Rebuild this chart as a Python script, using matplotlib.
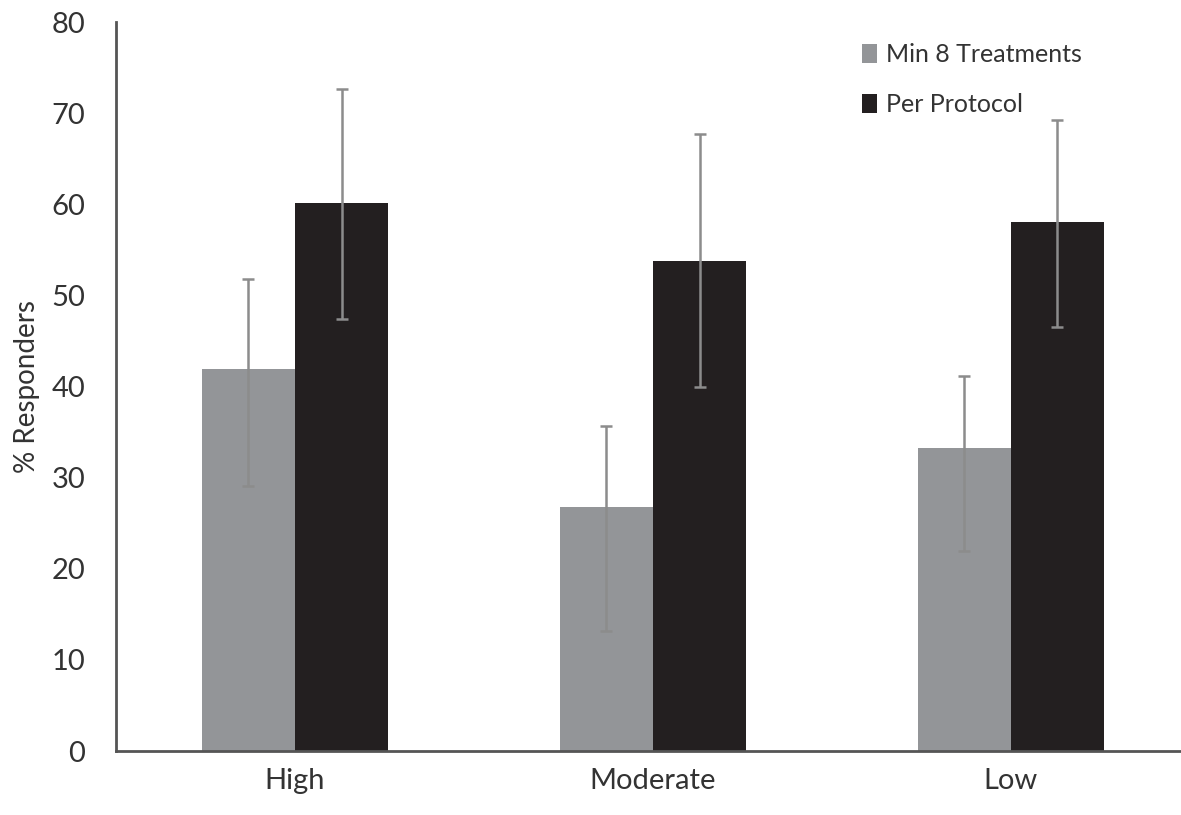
import numpy as np
import matplotlib.pyplot as plt

categories = ['High', 'Moderate', 'Low']
min8 = [41.9, 26.8, 33.3]
min8_lo = [29.1, 13.2, 22.0]
min8_hi = [51.8, 35.7, 41.2]
perprot = [60.1, 53.8, 58.0]
perprot_lo = [47.4, 40.0, 46.5]
perprot_hi = [72.7, 67.7, 69.2]

plt.rcParams['font.family'] = ['Lato', 'DejaVu Sans']

fig = plt.figure(figsize=(11.81, 8.15), dpi=100)
ax = fig.add_axes([0.0982, 0.0785, 0.9018, 0.8945])

x = np.arange(len(categories))
w = 0.26
err1 = [np.array(min8) - np.array(min8_lo), np.array(min8_hi) - np.array(min8)]
err2 = [np.array(perprot) - np.array(perprot_lo), np.array(perprot_hi) - np.array(perprot)]

ax.bar(x - w / 2, min8, w, color='#939598', label='Min 8 Treatments')
ax.bar(x + w / 2, perprot, w, color='#231f20', label='Per Protocol')
ax.errorbar(x - w / 2, min8, yerr=err1, fmt='none', ecolor='#8c8c8c', elinewidth=1.8, capsize=4, capthick=1.8)
ax.errorbar(x + w / 2, perprot, yerr=err2, fmt='none', ecolor='#8c8c8c', elinewidth=1.8, capsize=4, capthick=1.8)

ax.set_xlim(-0.5, 2.475)
ax.set_ylim(0, 80)
ax.set_yticks(range(0, 81, 10))
ax.set_xticks(x)
ax.set_xticklabels(categories)
ax.tick_params(axis='both', length=0, labelsize=21, colors='#333333')
ax.tick_params(axis='x', pad=12)
ax.tick_params(axis='y', pad=22)
ax.set_ylabel('% Responders', fontsize=20, color='#333333', labelpad=8)

for s in ['top', 'right']:
    ax.spines[s].set_visible(False)
for s in ['left', 'bottom']:
    ax.spines[s].set_color('#555555')
    ax.spines[s].set_linewidth(2)

ax.legend(loc='upper left', bbox_to_anchor=(0.711, 0.975), bbox_transform=fig.transFigure,
          frameon=False, fontsize=18, handlelength=0.6, handleheight=0.8,
          handletextpad=0.35, labelspacing=1.1, labelcolor='#333333')

fig.savefig('out.png', dpi=100)
